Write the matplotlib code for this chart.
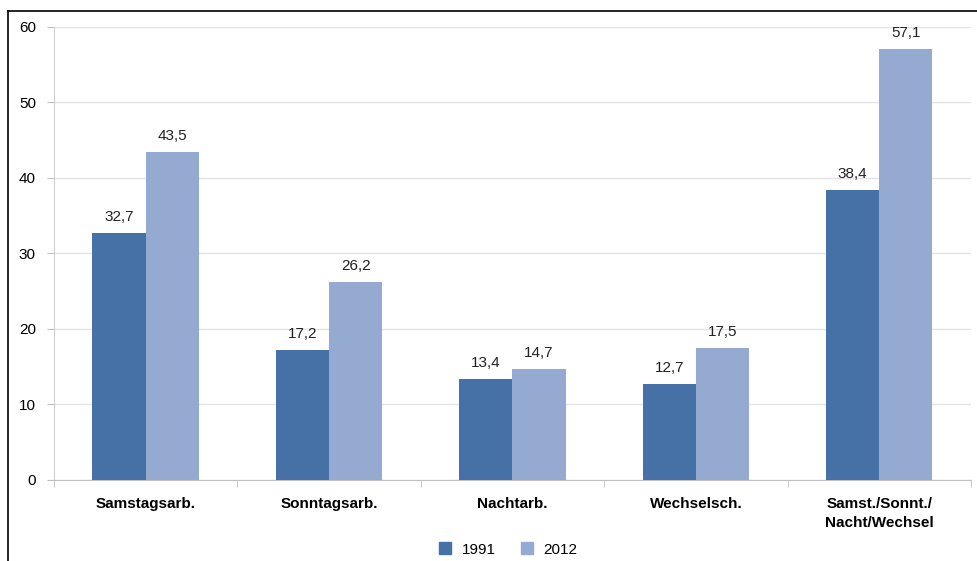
import numpy as np
import matplotlib.pyplot as plt
from matplotlib.lines import Line2D

plt.rcParams['font.family'] = ['Liberation Sans Narrow', 'Liberation Sans', 'DejaVu Sans']

categories = ['Samstagsarb.', 'Sonntagsarb.', 'Nachtarb.', 'Wechselsch.',
              'Samst./Sonnt./\nNacht/Wechsel']
years = ['1991', '2012']
values_1991 = [32.7, 17.2, 13.4, 12.7, 38.4]
values_2012 = [43.5, 26.2, 14.7, 17.5, 57.1]
yticks = [0, 10, 20, 30, 40, 50, 60]

col_1991 = '#4671a6'
col_2012 = '#95aad1'

fig = plt.figure(figsize=(9.78, 5.61), dpi=100)
ax = fig.add_axes([0.0552, 0.1444, 0.9376, 0.8075])

x = np.arange(len(categories))
w = 0.29
b1 = ax.bar(x - w / 2, values_1991, w, color=col_1991, label=years[0], zorder=3)
b2 = ax.bar(x + w / 2, values_2012, w, color=col_2012, label=years[1], zorder=3)

for bars, vals in [(b1, values_1991), (b2, values_2012)]:
    for rect, v in zip(bars, vals):
        ax.text(rect.get_x() + rect.get_width() / 2, v + 1.2,
                f'{v:.1f}'.replace('.', ','), ha='center', va='bottom',
                fontsize=11, color='#222222')

ax.set_xlim(-0.5, 4.5)
ax.set_ylim(0, 60)
ax.set_yticks(yticks)
ax.tick_params(axis='y', labelsize=11, length=5, color='#bfbfbf', pad=8)
ax.set_xticks(x)
ax.set_xticklabels(categories, fontsize=11, fontweight='bold', linespacing=1.5)
ax.tick_params(axis='x', length=0, pad=12)
# small tick marks between categories
ax.set_xticks(np.arange(-0.5, 5, 1), minor=True)
ax.tick_params(axis='x', which='minor', length=5, color='#bfbfbf')

ax.grid(axis='y', color='#e3e3e3', linewidth=1, zorder=0)
for s in ['top', 'right']:
    ax.spines[s].set_visible(False)
ax.spines['left'].set_color('#d0d0d0')
ax.spines['bottom'].set_color('#bfbfbf')

handles = [Line2D([], [], marker='s', linestyle='', markersize=9, color=col_1991),
           Line2D([], [], marker='s', linestyle='', markersize=9, color=col_2012)]
fig.legend(handles, years, loc='center', bbox_to_anchor=(0.515, 0.02), ncol=2,
           frameon=False, fontsize=11, handletextpad=0.1, columnspacing=1.0)

# outer frame lines (top and left)
fig.add_artist(Line2D([8 / 978, 1], [1 - 11 / 561, 1 - 11 / 561], color='black', linewidth=1.2))
fig.add_artist(Line2D([8 / 978, 8 / 978], [0, 1 - 11 / 561], color='black', linewidth=1.2))

fig.savefig('out.png', dpi=100)
